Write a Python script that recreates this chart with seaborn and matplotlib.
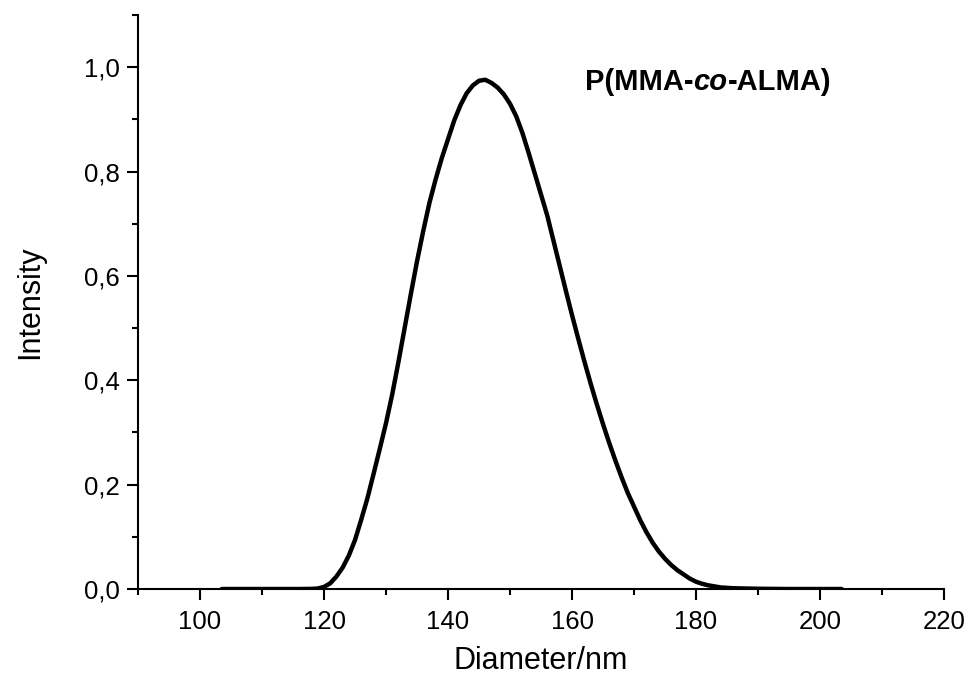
import numpy as np
import pandas as pd
import matplotlib
matplotlib.use('Agg')
import matplotlib.pyplot as plt
from matplotlib.ticker import MultipleLocator, FuncFormatter
import seaborn as sns

# size distribution
diameter = [103.5, 110, 116, 118, 119, 120, 121, 122, 123, 124, 125, 126,
            127, 128, 129, 130, 131, 132, 133, 134, 135, 136, 137, 138, 139,
            140, 141, 142, 143, 144, 145, 146, 147, 148, 149, 150, 151, 152,
            153, 154, 155, 156, 157, 158, 159, 160, 161, 162, 163, 164, 165,
            166, 167, 168, 169, 170, 171, 172, 173, 174, 175, 176, 177, 178,
            179, 180, 181, 182, 183, 184, 186, 190, 195, 203.5]
intensity = [0.0, 0.0, 0.0, 0.0003, 0.001, 0.004, 0.011, 0.024, 0.041, 0.064,
             0.094, 0.133, 0.174, 0.221, 0.269, 0.318, 0.373, 0.435, 0.500,
             0.565, 0.628, 0.686, 0.740, 0.785, 0.826, 0.862, 0.898, 0.927,
             0.950, 0.965, 0.974, 0.976, 0.970, 0.961, 0.948, 0.930, 0.906,
             0.874, 0.836, 0.796, 0.756, 0.716, 0.668, 0.620, 0.572, 0.525,
             0.480, 0.436, 0.394, 0.354, 0.316, 0.280, 0.246, 0.214, 0.184,
             0.158, 0.132, 0.109, 0.089, 0.072, 0.058, 0.046, 0.036, 0.028,
             0.020, 0.014, 0.010, 0.007, 0.005, 0.003, 0.0015, 0.0005, 0.0,
             0.0]
label_parts = [('P(MMA-', 'normal'), ('co', 'italic'), ('-ALMA)', 'normal')]


def comma(v, _):
    return f'{v:.1f}'.replace('.', ',')


def main():
    sns.set_style('ticks')
    plt.rcParams['font.family'] = ['Liberation Sans', 'DejaVu Sans']
    for key in ('text.color', 'axes.labelcolor', 'xtick.color', 'ytick.color'):
        plt.rcParams[key] = 'black'

    df = pd.DataFrame({'Diameter': diameter, 'Intensity': intensity})
    fig = plt.figure(figsize=(9.68, 6.83), dpi=100)
    ax = fig.add_axes([0.1426, 0.1376, 0.9752 - 0.1426, 0.978 - 0.1376])
    sns.lineplot(data=df, x='Diameter', y='Intensity', color='black',
                 linewidth=3.2, ax=ax)
    for line in ax.get_lines():
        line.set_solid_joinstyle('round')
        line.set_solid_capstyle('round')
    sns.despine(ax=ax)

    ax.set_xlim(90, 220)
    ax.set_ylim(0, 1.1)
    ax.xaxis.set_major_locator(MultipleLocator(20))
    ax.xaxis.set_minor_locator(MultipleLocator(10))
    ax.yaxis.set_major_locator(MultipleLocator(0.2))
    ax.yaxis.set_minor_locator(MultipleLocator(0.1))
    ax.yaxis.set_major_formatter(FuncFormatter(comma))
    for s in ('left', 'bottom'):
        ax.spines[s].set_linewidth(1.5)
        ax.spines[s].set_color('black')
    ax.tick_params(which='major', direction='out', length=8, width=1.5,
                   labelsize=18.5)
    ax.tick_params(axis='x', which='major', pad=7)
    ax.tick_params(axis='y', which='major', pad=5)
    ax.tick_params(which='minor', direction='out', length=4.5, width=1.5)
    ax.set_xlabel('Diameter/nm', fontsize=22, labelpad=9)
    ax.set_ylabel('Intensity', fontsize=22, labelpad=28)

    prev = None
    for part, style in label_parts:
        kw = dict(fontsize=21, fontweight='bold', fontstyle=style,
                  ha='left', va='bottom')
        if prev is None:
            prev = ax.annotate(part, xy=(162.1, 0.945), xycoords='data', **kw)
        else:
            prev = ax.annotate(part, xy=(1, 0), xycoords=prev, **kw)

    fig.savefig('out.png', dpi=100)


if __name__ == '__main__':
    main()
